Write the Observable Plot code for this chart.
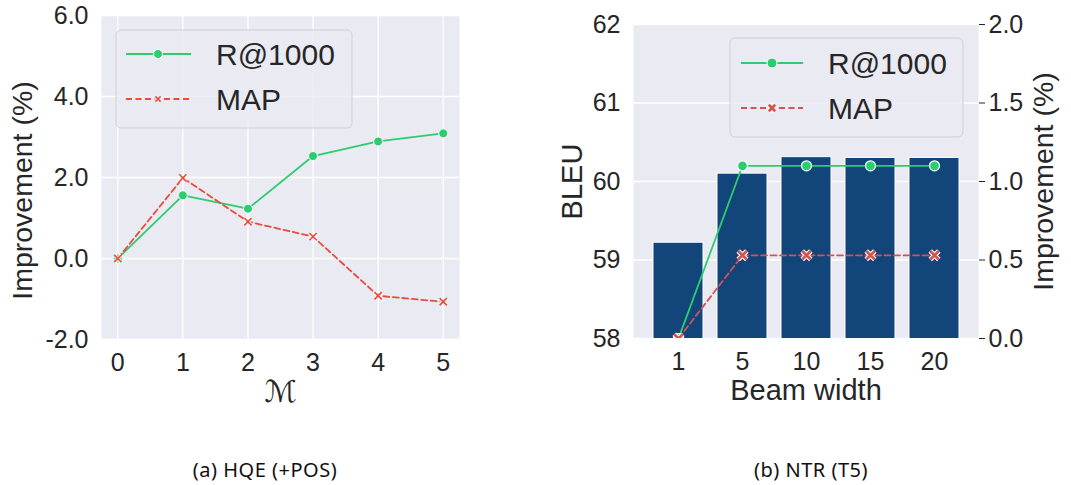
<!DOCTYPE html>
<html><head><meta charset="utf-8">
<script src="https://cdn.jsdelivr.net/npm/d3@7"></script>
<script src="https://cdn.jsdelivr.net/npm/@observablehq/plot@0.6"></script>
<style>
body{margin:0;background:#fff;width:1071px;height:485px;position:relative;overflow:hidden;font-family:"Liberation Sans",Arial,sans-serif;color:#262626}
.abs{position:absolute}
.cap{position:absolute;top:459px;font-family:"Noto Sans",sans-serif;font-size:20px;letter-spacing:0.5px;line-height:22px;transform:translateX(-50%);white-space:nowrap;color:#111}
</style></head><body>
<div id="a" class="abs" style="left:0;top:0"></div>
<div id="b1" class="abs" style="left:540px;top:0"></div>
<div id="b2" class="abs" style="left:540px;top:0"></div>
<div class="cap" style="left:265px">(a) HQE (+POS)</div>
<div class="cap" style="left:811px">(b) NTR (T5)</div>
<script>
// ---- data ----
const mValues = [0, 1, 2, 3, 4, 5];
const recallA = [0.0, 1.56, 1.23, 2.53, 2.89, 3.09];
const mapA = [0.0, 1.99, 0.91, 0.54, -0.92, -1.07];
const yTicksA = [-2, 0, 2, 4, 6];

const beamWidths = ["1", "5", "10", "15", "20"];
const bleu = [59.22, 60.10, 60.31, 60.30, 60.30];
const recallB = [0.0, 1.1, 1.1, 1.1, 1.1];
const mapB = [0.0, 0.53, 0.53, 0.53, 0.53];
const bleuTicks = [58, 59, 60, 61, 62];
const impTicksB = [0, 0.5, 1.0, 1.5, 2.0];
const seriesNames = ["R@1000", "MAP"];

// ---- style ----
const GREEN = "#2ecc71", RED_A = "#e74c3c", RED_B = "#d65353", NAVY = "#12457a", BG = "#eaeaf2", INK = "#262626";
const font = {fontFamily: '"Liberation Sans", Arial, sans-serif', fontSize: "25px", color: INK, background: "transparent", overflow: "visible"};
const fmt1 = d => d.toFixed(1);

// ---- panel (a) ----
const dataA = mValues.map((m, i) => ({m, r: recallA[i], p: mapA[i]}));
const plotA = Plot.plot({
  width: 540, height: 420, marginLeft: 101, marginRight: 81, marginTop: 15, marginBottom: 81,
  style: font,
  x: {domain: [-0.25, 5.25], ticks: mValues, tickSize: 0, tickPadding: 14, tickFormat: d3.format("d"), label: null},
  y: {domain: [-2, 6], ticks: yTicksA, tickSize: 0, tickPadding: 13, tickFormat: fmt1, label: null},
  marks: [
    Plot.frame({fill: BG, stroke: null}),
    Plot.gridX(mValues, {stroke: "white", strokeOpacity: 1, strokeWidth: 1.3}),
    Plot.gridY(yTicksA, {stroke: "white", strokeOpacity: 1, strokeWidth: 1.3}),
    Plot.line(dataA, {x: "m", y: "r", stroke: GREEN, strokeWidth: 1.8}),
    Plot.line(dataA, {x: "m", y: "p", stroke: RED_A, strokeWidth: 1.8, strokeDasharray: "6,3.5"}),
    Plot.dot(dataA, {x: "m", y: "r", r: 4.5, fill: GREEN, stroke: "white", strokeWidth: 1}),
    Plot.dot(dataA, {x: "m", y: "p", symbol: "times", r: 3.4, stroke: "white", strokeWidth: 3.5}),
    Plot.dot(dataA, {x: "m", y: "p", symbol: "times", r: 3.4, stroke: RED_A, strokeWidth: 1.7}),
    Plot.text(["Improvement (%)"], {frameAnchor: "left", textAnchor: "middle", lineAnchor: "middle", rotate: -90, dx: -79, dy: 13, fontSize: 28.5, fill: INK}),
    Plot.text(["ℳ"], {frameAnchor: "bottom", textAnchor: "middle", lineAnchor: "middle", dy: 53, fontSize: 30, fill: INK, fontFamily: "DejaVu Serif, DejaVu Sans"})
  ]
});
document.getElementById("a").append(plotA);

// ---- panel (b) ----
const dataB = beamWidths.map((w, i) => ({w, bleu: bleu[i], r: recallB[i], p: mapB[i]}));
const xB = {type: "band", domain: beamWidths, paddingInner: 0.22, paddingOuter: 0.3, tickSize: 0, tickPadding: 14, label: null};
const common = {width: 531, height: 420, marginLeft: 93, marginRight: 93, marginTop: 24, marginBottom: 82, style: font};

const plotB1 = Plot.plot({
  ...common,
  x: xB,
  y: {domain: [58, 62], ticks: bleuTicks, tickSize: 0, tickPadding: 13, tickFormat: d3.format("d"), label: null},
  marks: [
    Plot.frame({fill: BG, stroke: null}),
    Plot.gridY(bleuTicks, {stroke: "white", strokeOpacity: 1, strokeWidth: 1.3}),
    Plot.barY(dataB, {x: "w", y: "bleu", fill: NAVY, stroke: "white", strokeWidth: 1, clip: true}),
    Plot.text(["BLEU"], {frameAnchor: "left", textAnchor: "middle", lineAnchor: "middle", rotate: -90, dx: -61, fontSize: 29, fill: INK}),
    Plot.text(["Beam width"], {frameAnchor: "bottom", textAnchor: "middle", lineAnchor: "middle", dy: 52, fontSize: 29, fill: INK})
  ]
});
document.getElementById("b1").append(plotB1);

const plotB2 = Plot.plot({
  ...common,
  x: {...xB, axis: null},
  y: {domain: [0, 2], ticks: impTicksB, axis: "right", tickSize: 6, tickPadding: 4, tickFormat: fmt1, label: null},
  marks: [
    Plot.line(dataB, {x: "w", y: "r", stroke: GREEN, strokeWidth: 1.8, clip: true}),
    Plot.line(dataB, {x: "w", y: "p", stroke: RED_B, strokeWidth: 1.8, strokeDasharray: "6,3.5", clip: true}),
    Plot.dot(dataB, {x: "w", y: "r", r: 5, fill: GREEN, stroke: "white", strokeWidth: 1.2, clip: true}),
    Plot.dot(dataB, {x: "w", y: "p", symbol: "times", r: 4, stroke: "white", strokeWidth: 5, clip: true}),
    Plot.dot(dataB, {x: "w", y: "p", symbol: "times", r: 4, stroke: RED_B, strokeWidth: 2.8, clip: true}),
    Plot.text(["Improvement (%)"], {frameAnchor: "right", textAnchor: "middle", lineAnchor: "middle", rotate: -90, dx: 65, fontSize: 28.5, fill: INK})
  ]
});
document.getElementById("b2").append(plotB2);

// ---- legends ----
function legend(left, top, w, h, rowY, lineX, markX, textX, rows) {
  const svg = d3.create("svg").attr("width", w + 2).attr("height", h + 2)
    .style("position", "absolute").style("left", (left - 1) + "px").style("top", (top - 1) + "px").style("overflow", "visible");
  svg.append("rect").attr("x", 1).attr("y", 1).attr("width", w).attr("height", h).attr("rx", 5)
    .attr("fill", "rgba(234,234,242,0.8)").attr("stroke", "#cfcfd6").attr("stroke-width", 1);
  rows.forEach((row, i) => {
    const y = rowY[i] + 1;
    const g = svg.append("g");
    g.append("line").attr("x1", lineX[0]).attr("x2", lineX[1]).attr("y1", y).attr("y2", y)
      .attr("stroke", row.color).attr("stroke-width", 1.8).attr("stroke-dasharray", row.dash || null);
    if (row.sym === "circle") {
      g.append("circle").attr("cx", markX).attr("cy", y).attr("r", row.r).attr("fill", row.color).attr("stroke", "white").attr("stroke-width", 1);
    } else {
      const s = row.r;
      const d = `M${markX - s},${y - s}L${markX + s},${y + s}M${markX - s},${y + s}L${markX + s},${y - s}`;
      g.append("path").attr("d", d).attr("stroke", "white").attr("stroke-width", row.sw + 2).attr("fill", "none");
      g.append("path").attr("d", d).attr("stroke", row.color).attr("stroke-width", row.sw).attr("fill", "none");
    }
    g.append("text").attr("x", textX).attr("y", y).attr("dy", "0.35em").attr("fill", INK)
      .style("font-family", '"Liberation Sans", Arial, sans-serif').style("font-size", "30px").text(row.name);
  });
  document.body.append(svg.node());
}
legend(116, 30, 236, 98, [24, 69], [11, 76], 43, 101, [
  {name: seriesNames[0], color: GREEN, sym: "circle", r: 4.5},
  {name: seriesNames[1], color: RED_A, dash: "6,3.5", sym: "times", r: 2.6, sw: 1.6}
]);
legend(730, 38, 233, 99, [25, 70], [12, 74], 43, 99, [
  {name: seriesNames[0], color: GREEN, sym: "circle", r: 5},
  {name: seriesNames[1], color: RED_B, dash: "6,3.5", sym: "times", r: 3.2, sw: 2.8}
]);
</script>
</body></html>
